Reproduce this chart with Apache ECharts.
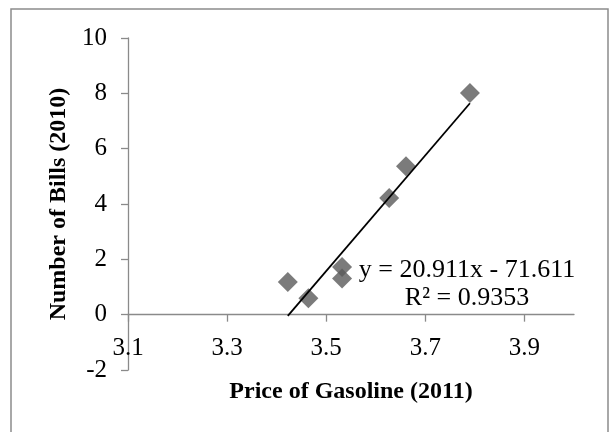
<!DOCTYPE html>
<html>
<head>
<meta charset="utf-8">
<style>
  html, body { margin: 0; padding: 0; background: #fff; }
  #chart { width: 610px; height: 432px; }
</style>
<script src="https://cdn.jsdelivr.net/npm/echarts@6/dist/echarts.min.js"></script>
</head>
<body>
<div id="chart"></div>
<script>
// Gasoline price in 2011 vs. number of bills introduced in 2010
const gasPrice2011 = [3.4225, 3.464, 3.532, 3.532, 3.627, 3.661, 3.790];
const bills2010    = [1.18, 0.59, 1.72, 1.31, 4.22, 5.36, 8.01];

// Linear trendline reported by the fit
const slope = 20.911;
const intercept = -71.611;
const rSquared = 0.9353;

const xTickValues = [3.1, 3.3, 3.5, 3.7, 3.9];

const FONT = '"Liberation Serif", "Times New Roman", serif';

const points = gasPrice2011.map((x, i) => [x, bills2010[i]]);
const xLo = Math.min(...gasPrice2011);
const xHi = Math.max(...gasPrice2011);
const trend = [[xLo, slope * xLo + intercept], [xHi, slope * xHi + intercept]];

const axisGray = '#8a8a8a';

const chart = echarts.init(document.getElementById('chart'));
chart.setOption({
  animation: false,
  backgroundColor: '#fff',
  grid: { left: 128, right: 36, top: 38, bottom: 62, containLabel: false, outerBoundsMode: 'none' },
  xAxis: {
    type: 'value',
    min: 3.1,
    max: 4.0,
    name: 'Price of Gasoline (2011)',
    nameLocation: 'middle',
    // labels and name are laid out from the bottom edge of the grid,
    // so they are pulled up to sit just under the zero line
    nameGap: 10,
    nameTextStyle: { fontFamily: FONT, fontSize: 24, fontWeight: 'bold', color: '#000' },
    axisLine: { onZero: true, lineStyle: { color: axisGray, width: 1.3 } },
    axisTick: { show: true, length: 7, customValues: xTickValues, lineStyle: { color: axisGray, width: 1.3 } },
    axisLabel: {
      customValues: xTickValues,
      margin: -34,
      fontFamily: FONT, fontSize: 25, color: '#000',
      formatter: v => v.toFixed(1)
    },
    splitLine: { show: false }
  },
  yAxis: {
    type: 'value',
    min: -2,
    max: 10,
    interval: 2,
    name: 'Number of Bills (2010)',
    nameLocation: 'middle',
    nameGap: 56,
    nameTextStyle: { fontFamily: FONT, fontSize: 24, fontWeight: 'bold', color: '#000' },
    axisLine: { show: true, onZero: false, lineStyle: { color: axisGray, width: 1.3 } },
    axisTick: { show: true, length: 7, lineStyle: { color: axisGray, width: 1.3 } },
    axisLabel: { margin: 21, fontFamily: FONT, fontSize: 25, color: '#000' },
    splitLine: { show: false }
  },
  graphic: [
    {
      type: 'rect',
      shape: { x: 11, y: 9, width: 597, height: 440 },
      style: { fill: 'none', stroke: '#8c8c8c', lineWidth: 1.5 },
      silent: true
    },
    {
      type: 'text',
      x: 467,
      y: 256,
      style: {
        text: 'y = ' + slope.toFixed(3) + 'x - ' + Math.abs(intercept).toFixed(3) + '\nR² = ' + rSquared.toFixed(4),
        font: '26px ' + FONT,
        fill: '#000',
        align: 'center',
        verticalAlign: 'top',
        lineHeight: 28
      },
      z: 100
    }
  ],
  series: [
    {
      type: 'scatter',
      data: points,
      symbol: 'diamond',
      symbolSize: 20,
      itemStyle: { color: '#5a5a5a' },
      z: 2
    },
    {
      type: 'line',
      data: trend,
      symbol: 'none',
      lineStyle: { color: '#000', width: 1.8 },
      z: 3
    }
  ]
});
</script>
</body>
</html>
